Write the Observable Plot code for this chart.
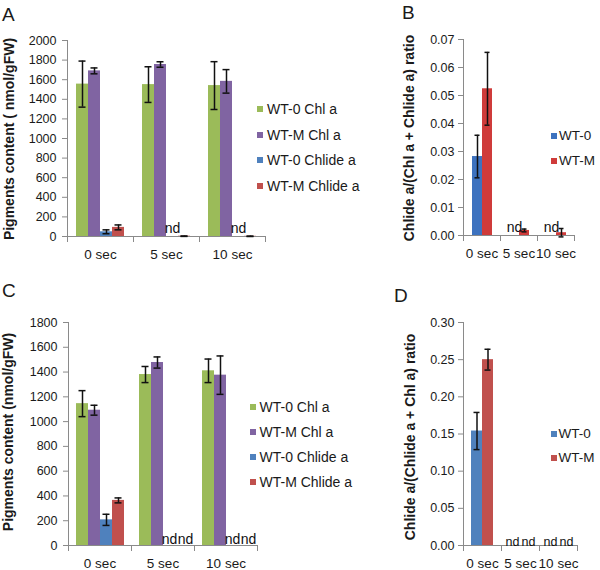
<!DOCTYPE html>
<html>
<head>
<meta charset="utf-8">
<script src="https://cdn.jsdelivr.net/npm/d3@7"></script>
<script src="https://cdn.jsdelivr.net/npm/@observablehq/plot@0.6"></script>
<style>
  html, body { margin: 0; padding: 0; background: #fff; }
  body { font-family: "Liberation Sans", Arial, Helvetica, sans-serif; color: #222; }
  #fig { position: relative; width: 600px; height: 570px; overflow: hidden; background: #fff; }
  .panel { position: absolute; }
  .letter { position: absolute; font-size: 19px; line-height: 1; color: #1a1a1a; z-index: 3; }
  .ylab { position: absolute; width: 260px; height: 16px; line-height: 16px; font-size: 14px; font-weight: bold;
          text-align: center; white-space: nowrap; transform: rotate(-90deg); transform-origin: 50% 50%; color: #1a1a1a; z-index: 3; }
  .legrow { position: absolute; height: 16px; line-height: 16px; display: flex; align-items: center; white-space: nowrap; color: #1a1a1a; z-index: 3; }
  .sw { width: 6px; height: 6px; flex: none; }
</style>
</head>
<body>
<div id="fig"></div>
<script>
// ---------- data ----------
const times = ["0 sec", "5 sec", "10 sec"];

const pigmentSeries = ["WT-0 Chl a", "WT-M Chl a", "WT-0 Chlide a", "WT-M Chlide a"];
const pigmentColors = ["#9bbb59", "#8064a2", "#4f81bd", "#c0504d"];
const ratioSeries = ["WT-0", "WT-M"];
const ratioColorsB = ["#3d72bf", "#cf3b3a"];
const ratioColorsD = ["#4f81bd", "#c0504d"];

// Panel A: pigments content (nmol/gFW); null = nd
const aWt0Chl = [1555, 1550, 1540];
const aWt0ChlErr = [235, 182, 244];
const aWtMChl = [1690, 1755, 1583];
const aWtMChlErr = [30, 28, 120];
const aWt0Chlide = [48, null, null];
const aWt0ChlideErr = [20, null, null];
const aWtMChlide = [93, 3, 2];
const aWtMChlideErr = [25, 2, 2];
const aTicks = [0, 200, 400, 600, 800, 1000, 1200, 1400, 1600, 1800, 2000];

// Panel B: Chlide a/(Chl a + Chlide a) ratio
const bWt0 = [0.0282, null, null];
const bWt0Err = [0.0076, null, null];
const bWtM = [0.0524, 0.0018, 0.001];
const bWtMErr = [0.013, 0.0005, 0.0015];
const bTicks = [0, 0.01, 0.02, 0.03, 0.04, 0.05, 0.06, 0.07];

// Panel C: pigments content (nmol/gFW)
const cWt0Chl = [1145, 1380, 1410];
const cWt0ChlErr = [105, 65, 95];
const cWtMChl = [1092, 1477, 1375];
const cWtMChlErr = [40, 45, 155];
const cWt0Chlide = [207, null, null];
const cWt0ChlideErr = [45, null, null];
const cWtMChlide = [364, null, null];
const cWtMChlideErr = [20, null, null];
const cTicks = [0, 200, 400, 600, 800, 1000, 1200, 1400, 1600, 1800];

// Panel D: Chlide a/(Chlide a + Chl a) ratio
const dWt0 = [0.154, null, null];
const dWt0Err = [0.025, null, null];
const dWtM = [0.250, null, null];
const dWtMErr = [0.014, null, null];
const dTicks = [0, 0.05, 0.10, 0.15, 0.20, 0.25, 0.30];

// ---------- drawing ----------
const FONT = '"Liberation Sans", Arial, Helvetica, sans-serif';
const AXIS = "#8a8a8a";
const fig = document.getElementById("fig");

function table(series, means, errs) {
  const rows = [];
  series.forEach((s, i) => times.forEach((t, j) => rows.push({time: t, series: s, value: means[i][j], err: errs[i][j]})));
  return rows;
}

function groupedBars(o) {
  const data = table(o.series, o.means, o.errs);
  const vals = data.filter(d => d.value != null);
  const errs = vals.filter(d => d.err != null);
  const nd = data.filter(d => d.value == null);
  const plotH = o.height - o.mt - o.mb;
  const capInset = o.capInset;
  const marks = [
    Plot.barY(vals, {fx: "time", x: "series", y: "value", fill: "series"}),
    Plot.frame({anchor: "bottom", stroke: AXIS}),
    Plot.frame({anchor: "left", stroke: AXIS, insetTop: plotH, insetBottom: -5}),
    Plot.frame({anchor: "right", stroke: AXIS, insetTop: plotH, insetBottom: -5}),
    Plot.frame({anchor: "left", stroke: AXIS, facetAnchor: "left"}),
    Plot.axisY({ticks: o.ticks, tickFormat: o.tickFormat, tickSize: 5, tickPadding: o.tickPadding, stroke: AXIS, fill: "#1a1a1a", fontSize: 12.5, label: null}),
    Plot.axisFx({anchor: "bottom", tickSize: 0, tickPadding: 13, fontSize: 13.5, fill: "#1a1a1a", label: null}),
    Plot.ruleX(errs, {fx: "time", x: "series", y1: d => d.value - d.err, y2: d => d.value + d.err, stroke: "#111", strokeWidth: 1.5}),
    Plot.tickY(errs, {fx: "time", x: "series", y: d => d.value - d.err, stroke: "#111", strokeWidth: 1.5, insetLeft: capInset, insetRight: capInset}),
    Plot.tickY(errs, {fx: "time", x: "series", y: d => d.value + d.err, stroke: "#111", strokeWidth: 1.5, insetLeft: capInset, insetRight: capInset})
  ];
  o.series.forEach((s, i) => {
    marks.push(Plot.text(nd.filter(d => d.series === s), {fx: "time", x: "series", frameAnchor: "bottom", text: () => "nd",
      lineAnchor: "bottom", dy: o.ndDy, dx: (o.ndDx || [])[i] || 0, fontSize: o.ndSize || 14, fill: "#111"}));
  });
  return Plot.plot({
    width: o.width, height: o.height,
    marginTop: o.mt, marginBottom: o.mb, marginLeft: o.ml, marginRight: o.mr,
    style: {fontFamily: FONT, fontSize: "12.5px", color: "#1a1a1a", background: "transparent", overflow: "visible"},
    fx: {domain: times, paddingInner: 0, paddingOuter: 0, label: null},
    x: {domain: o.series, paddingInner: 0, paddingOuter: o.padOuter, axis: null},
    y: {domain: o.yDomain, label: null},
    color: {domain: o.series, range: o.colors},
    marks
  });
}

function place(el, left, top) {
  const wrap = document.createElement("div");
  wrap.className = "panel";
  wrap.style.left = left + "px";
  wrap.style.top = top + "px";
  wrap.appendChild(el);
  fig.appendChild(wrap);
}

function letter(t, left, top) {
  const d = document.createElement("div");
  d.className = "letter"; d.textContent = t;
  d.style.left = left + "px"; d.style.top = top + "px";
  fig.appendChild(d);
}

function ylabel(t, cx, cy) {
  const d = document.createElement("div");
  d.className = "ylab"; d.textContent = t;
  d.style.left = (cx - 130) + "px"; d.style.top = (cy - 8) + "px";
  fig.appendChild(d);
}

function legend(series, colors, left, firstY, step, gap, fontSize) {
  series.forEach((s, i) => {
    const row = document.createElement("div");
    row.className = "legrow";
    row.style.left = left + "px";
    row.style.top = (firstY + i * step - 8) + "px";
    row.style.fontSize = fontSize + "px";
    const sw = document.createElement("span");
    sw.className = "sw"; sw.style.background = colors[i]; sw.style.marginRight = gap + "px";
    const tx = document.createElement("span");
    tx.textContent = s;
    row.appendChild(sw); row.appendChild(tx);
    fig.appendChild(row);
  });
}

// Panel A
place(groupedBars({
  series: pigmentSeries, colors: pigmentColors,
  means: [aWt0Chl, aWtMChl, aWt0Chlide, aWtMChlide],
  errs: [aWt0ChlErr, aWtMChlErr, aWt0ChlideErr, aWtMChlideErr],
  yDomain: [0, 2000], ticks: aTicks, tickFormat: d3.format("d"), tickPadding: 6,
  width: 300, height: 270, mt: 40, mb: 34, ml: 67, mr: 35, padOuter: 0.75, capInset: 2.5, ndDy: -4
}), 0, 0);

// Panel B
place(groupedBars({
  series: ratioSeries, colors: ratioColorsB,
  means: [bWt0, bWtM], errs: [bWt0Err, bWtMErr],
  yDomain: [0, 0.07], ticks: bTicks, tickFormat: d3.format(".2f"), tickPadding: 4,
  width: 300, height: 270, mt: 39, mb: 35, ml: 162, mr: 25, padOuter: 0.75, capInset: 2.5, ndDy: -4
}), 300, 0);

// Panel C
place(groupedBars({
  series: pigmentSeries, colors: pigmentColors,
  means: [cWt0Chl, cWtMChl, cWt0Chlide, cWtMChlide],
  errs: [cWt0ChlErr, cWtMChlErr, cWt0ChlideErr, cWtMChlideErr],
  yDomain: [0, 1800], ticks: cTicks, tickFormat: d3.format("d"), tickPadding: 6,
  width: 300, height: 290, mt: 42, mb: 25, ml: 67, mr: 43, padOuter: 0.57, capInset: 2.5, ndDy: -2, ndDx: [0, 0, 0, 4]
}), 0, 280);

// Panel D
place(groupedBars({
  series: ratioSeries, colors: ratioColorsD,
  means: [dWt0, dWtM], errs: [dWt0Err, dWtMErr],
  yDomain: [0, 0.30], ticks: dTicks, tickFormat: d3.format(".2f"), tickPadding: 4,
  width: 300, height: 290, mt: 42, mb: 25, ml: 162, mr: 22, padOuter: 0.67, capInset: 2.5,
  ndDy: 0, ndDx: [-2.5, 2.5], ndSize: 12.5
}), 300, 280);

// Letters
letter("A", 2, 5);
letter("B", 402, 3);
letter("C", 2, 281);
letter("D", 394, 286);

// Axis titles
ylabel("Pigments content ( nmol/gFW)", 8.5, 138.5);
ylabel("Chlide a/(Chl a + Chlide a) ratio", 409, 137.5);
ylabel("Pigments content (nmol/gFW)", 8, 431.5);
ylabel("Chlide a/(Chlide a + Chl a) ratio", 409.5, 436.5);

// Legends
legend(pigmentSeries, pigmentColors, 257, 109, 25.5, 4, 14);
legend(ratioSeries, ratioColorsB, 551, 135.5, 25, 2, 13.5);
legend(pigmentSeries, pigmentColors, 250, 407, 25, 3.5, 14);
legend(ratioSeries, ratioColorsD, 551, 434, 23.5, 1.5, 13.5);
</script>
</body>
</html>
